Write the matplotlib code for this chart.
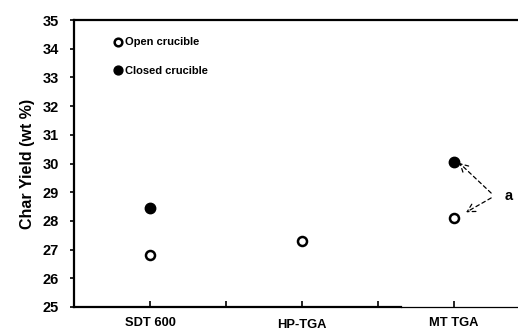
import matplotlib
matplotlib.use('Agg')
import matplotlib.pyplot as plt
import matplotlib.transforms as mtransforms

# data
instruments = ['SDT 600', 'HP-TGA', 'MT TGA']
x_pos = [1, 3, 5]
open_yield = [26.8, 27.3, 28.1]
closed_x = [1, 5]
closed_yield = [28.45, 30.05]

plt.rcParams['font.family'] = ['Liberation Sans', 'DejaVu Sans']
plt.rcParams['font.weight'] = 'bold'

fig = plt.figure(figsize=(5.18, 3.29), dpi=100)
ax = fig.add_axes([0.143, 0.067, 0.88, 0.872])

ax.plot(x_pos, open_yield, 'o', ms=6.5, mfc='white', mec='black', mew=1.8,
        ls='none', label='Open crucible')
ax.plot(closed_x, closed_yield, 'o', ms=7.5, color='black', ls='none',
        label='Closed crucible')

ax.set_xlim(0, 6)
ax.set_ylim(25, 35)
ax.set_yticks(range(25, 36))
ax.set_xticks([1, 2, 3, 4, 5])
ax.set_xticklabels(['SDT 600', '', 'HP-TGA', '', 'MT TGA'])
ax.tick_params(axis='y', direction='out', length=3, width=1.2, labelsize=10.5, pad=8)
ax.tick_params(axis='x', direction='in', length=4, width=1.2, labelsize=9.3, pad=7)
for lab in ax.get_yticklabels() + ax.get_xticklabels():
    lab.set_fontweight('bold')
# HP-TGA label sits a bit lower in the original
lbl = ax.get_xticklabels()[2]
lbl.set_transform(lbl.get_transform() + mtransforms.ScaledTranslation(0, -2/100, fig.dpi_scale_trans))

ax.set_ylabel('Char Yield (wt %)', fontsize=11.5, fontweight='bold', labelpad=5)

for s in ['left', 'top']:
    ax.spines[s].set_linewidth(1.6)
ax.spines['right'].set_visible(False)
ax.spines['bottom'].set_linewidth(1.6)
ax.spines['bottom'].set_bounds(0, 4.3)
ax.axhline(25, xmin=4.3/6, xmax=1, color='black', lw=0.9, clip_on=False)

leg = ax.legend(loc='upper left', bbox_to_anchor=(0.075, 0.955), frameon=False,
                fontsize=8, handletextpad=0.1, labelspacing=1.65,
                handlelength=1.0, borderaxespad=0, markerscale=0.85)
for t in leg.get_texts():
    t.set_fontweight('bold')

ax.text(5.67, 28.87, 'a', fontsize=10.5, fontweight='bold', va='center', ha='left')
arrow = dict(arrowstyle='->,head_length=0.55,head_width=0.3', linestyle=(0, (3, 2.5)),
             color='black', lw=0.9, shrinkA=0, shrinkB=0)
ax.annotate('', xy=(5.07, 30.02), xytext=(5.49, 28.97), arrowprops=arrow)
ax.annotate('', xy=(5.16, 28.3), xytext=(5.49, 28.8), arrowprops=arrow)

fig.savefig('out.png', dpi=100)
